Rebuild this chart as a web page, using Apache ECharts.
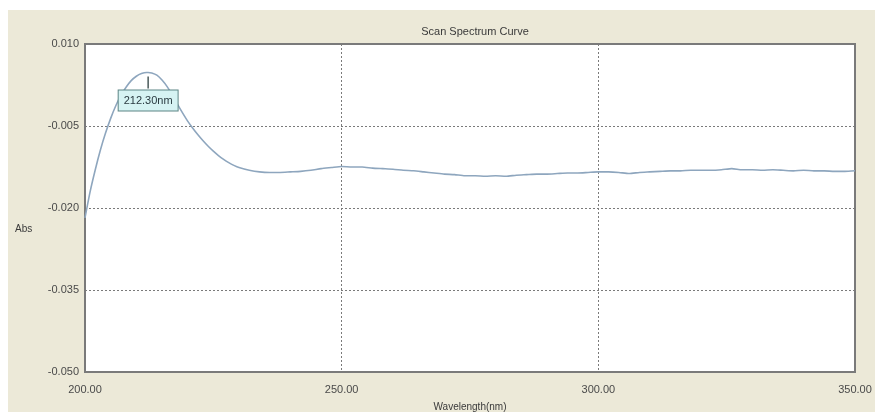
<!DOCTYPE html>
<html>
<head>
<meta charset="utf-8">
<title>Scan Spectrum Curve</title>
<script src="https://cdn.jsdelivr.net/npm/echarts@6/dist/echarts.min.js"></script>
<style>
  html, body { margin: 0; padding: 0; background: #ffffff; }
  #chart { width: 875px; height: 417px; }
</style>
</head>
<body>
<div id="chart"></div>
<script>
// Scan data: wavelength (nm) and absorbance
const wavelength = [
  200, 201, 202, 203, 204, 205, 206, 207, 208, 209,
  210, 211, 212, 212.3, 213, 214, 215, 216, 217, 218, 219,
  220, 221, 222, 223, 224, 225, 226, 227, 228, 229,
  230, 232, 234, 236, 238, 240, 242, 244, 246, 248,
  250, 252, 254, 256, 258, 260, 262, 264, 266, 268,
  270, 272, 274, 276, 278, 280, 282, 284, 286, 288,
  290, 292, 294, 296, 298, 300, 302, 304, 306, 308,
  310, 312, 314, 316, 318, 320, 322, 324, 326, 328,
  330, 332, 334, 336, 338, 340, 342, 344, 346, 348, 350
];
const absorbance = [
  -0.0218, -0.0170, -0.0130, -0.0094, -0.0063, -0.0036, -0.0013, 0.0006, 0.0021, 0.0033,
  0.0041, 0.0046, 0.0048, 0.0048, 0.0047, 0.0043, 0.0034, 0.0022, 0.0007, -0.0010, -0.0026,
  -0.0041, -0.0054, -0.0066, -0.0077, -0.0087, -0.0096, -0.0104, -0.0111, -0.0117, -0.0122,
  -0.0126, -0.0131, -0.0134, -0.0135, -0.0135, -0.0134, -0.0133, -0.0131, -0.0128, -0.0126,
  -0.0124, -0.0125, -0.0125, -0.0127, -0.0128, -0.0129, -0.0131, -0.0132, -0.0134, -0.0136,
  -0.0138, -0.0139, -0.0141, -0.0141, -0.0142, -0.0141, -0.0142, -0.0140, -0.0139, -0.0138,
  -0.0138, -0.0137, -0.0136, -0.0136, -0.0135, -0.0134, -0.0134, -0.0135, -0.0137, -0.0135,
  -0.0134, -0.0133, -0.0132, -0.0132, -0.0131, -0.0131, -0.0131, -0.0130, -0.0128, -0.0130,
  -0.0130, -0.0131, -0.0130, -0.0131, -0.0132, -0.0131, -0.0132, -0.0132, -0.0133, -0.0133, -0.0132
];

// Peak marker
const peakWavelength = 212.3;
const peakAbsorbance = 0.0048;

// Axis tick labels
const xTickLabels = ['200.00', '250.00', '300.00', '350.00'];
const yTickLabels = ['-0.050', '-0.035', '-0.020', '-0.005', '0.010'];

const points = wavelength.map((w, i) => [w, absorbance[i]]);

const labelFont = 'Liberation Sans, Arial, sans-serif';
const chart = echarts.init(document.getElementById('chart'), null, { renderer: 'canvas' });

chart.setOption({
  animation: false,
  backgroundColor: '#ffffff',
  graphic: [{
    type: 'rect',
    z: -10,
    silent: true,
    shape: { x: 8, y: 10, width: 867, height: 402 },
    style: { fill: '#ece9d8' }
  }, {
    type: 'text',
    silent: true,
    left: 15,
    top: 224,
    style: { text: 'Abs', font: '10px ' + labelFont, fill: '#3a3a3a' }
  }],
  title: {
    text: 'Scan Spectrum Curve',
    left: 470,
    textAlign: 'center',
    top: 21,
    textStyle: { fontFamily: labelFont, fontSize: 11, fontWeight: 'normal', color: '#3a3a3a' }
  },
  grid: {
    left: 85, right: 20, top: 44, bottom: 36,
    show: true,
    backgroundColor: '#ffffff',
    borderColor: '#7a7a7a',
    borderWidth: 2
  },
  xAxis: {
    type: 'value',
    min: 200, max: 350, interval: 50,
    name: 'Wavelength(nm)',
    nameLocation: 'middle',
    nameGap: 30,
    nameTextStyle: { fontFamily: labelFont, fontSize: 10, color: '#3a3a3a' },
    axisLine: { show: false },
    axisTick: { show: false },
    axisLabel: {
      margin: 12,
      fontFamily: labelFont, fontSize: 11, color: '#4a4a4a',
      formatter: (v) => xTickLabels[Math.round((v - 200) / 50)]
    },
    splitLine: { show: true, lineStyle: { color: '#7a7a7a', type: [2, 2], width: 1 } }
  },
  yAxis: {
    type: 'value',
    min: -0.05, max: 0.01, interval: 0.015,
    axisLine: { show: false },
    axisTick: { show: false },
    axisLabel: {
      margin: 6,
      fontFamily: labelFont, fontSize: 11, color: '#4a4a4a',
      formatter: (v) => yTickLabels[Math.round((v + 0.05) / 0.015)]
    },
    splitLine: { show: true, lineStyle: { color: '#7a7a7a', type: [2, 2], width: 1 } }
  },
  series: [{
    type: 'line',
    data: points,
    showSymbol: false,
    smooth: 0.2,
    lineStyle: { color: '#8ea6be', width: 1.6 },
    markPoint: {
      symbol: 'rect',
      symbolSize: [1.5, 12],
      symbolOffset: [0, 10],
      itemStyle: { color: '#4a5a5a' },
      label: {
        show: true,
        position: 'bottom',
        distance: 2,
        formatter: peakWavelength.toFixed(2) + 'nm',
        fontFamily: labelFont,
        fontSize: 11,
        color: '#2a3a40',
        backgroundColor: '#d6f3f3',
        borderColor: '#5d8585',
        borderWidth: 1,
        padding: [5, 5, 4, 5]
      },
      data: [{ coord: [peakWavelength, peakAbsorbance] }]
    }
  }]
});
</script>
</body>
</html>
